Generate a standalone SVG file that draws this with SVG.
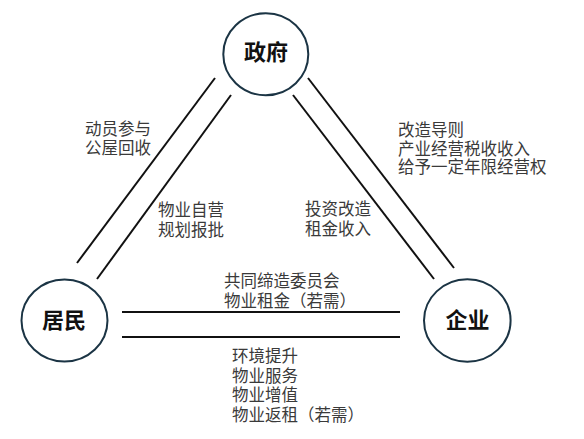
<svg xmlns="http://www.w3.org/2000/svg" width="584" height="439" viewBox="0 0 584 439">
<style>
.node{fill:#fff;stroke:#1b3444;stroke-width:2}
.nl{font-family:"Noto Sans CJK SC","Noto Sans CJK JP",sans-serif;font-size:22px;font-weight:bold;fill:#111;text-anchor:middle}
.lb{font-family:"Noto Sans CJK SC","Noto Sans CJK JP",sans-serif;font-size:16.5px;fill:#3a3a3a}
.cn line{stroke:#111;stroke-width:2}
</style>
<rect width="584" height="439" fill="#fff"/>
<g id="connectors" class="cn">
<line x1="215" y1="78" x2="77" y2="263"/>
<line x1="231" y1="95" x2="97" y2="279"/>
<line x1="293" y1="95" x2="434" y2="279"/>
<line x1="308" y1="78" x2="454" y2="268"/>
<line x1="122" y1="312" x2="400" y2="312"/>
<line x1="122" y1="337" x2="400" y2="337"/>
</g>
<g id="labels">
<text class="lb" x="85" y="135.3">动员参与<tspan x="85" dy="18.7">公屋回收</tspan></text>
<text class="lb" x="158" y="216.3">物业自营<tspan x="158" dy="19.3">规划报批</tspan></text>
<text class="lb" x="305" y="215.3">投资改造<tspan x="305" dy="19.3">租金收入</tspan></text>
<text class="lb" x="398" y="135.6">改造导则<tspan x="398" dy="19">产业经营税收收入</tspan><tspan x="398" dy="18.4">给予一定年限经营权</tspan></text>
<text class="lb" x="224" y="287">共同缔造委员会<tspan x="224" dy="20">物业租金（若需）</tspan></text>
<text class="lb" x="232" y="362.3">环境提升<tspan x="232" dy="19.7">物业服务</tspan><tspan x="232" dy="19.3">物业增值</tspan><tspan x="232" dy="20">物业返租（若需）</tspan></text>
</g>
<g id="node-gov">
<ellipse class="node" cx="265.8" cy="54.2" rx="42.5" ry="41"/>
<text class="nl" x="266" y="60.4">政府</text>
</g>
<g id="node-residents">
<ellipse class="node" cx="64.5" cy="320.5" rx="43" ry="41"/>
<text class="nl" x="64" y="328.4">居民</text>
</g>
<g id="node-enterprise">
<ellipse class="node" cx="467.3" cy="320.5" rx="43.3" ry="41.2"/>
<text class="nl" x="467.5" y="328.4">企业</text>
</g>
</svg>
